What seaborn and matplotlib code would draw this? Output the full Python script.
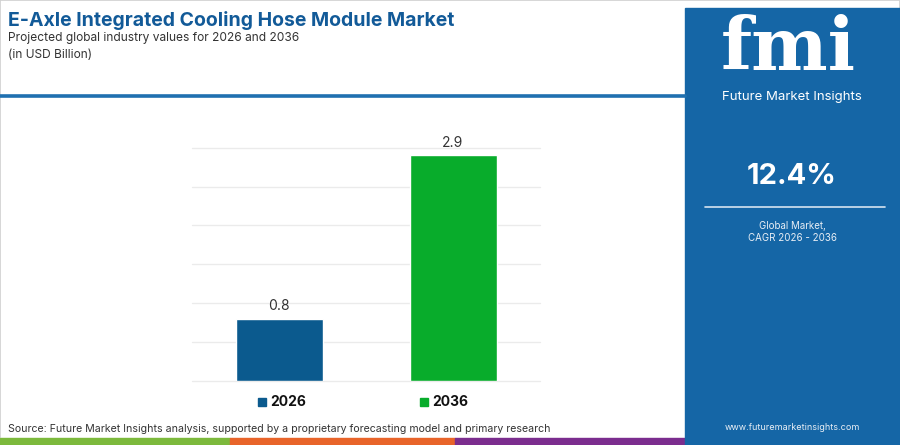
import matplotlib
matplotlib.use("Agg")
import matplotlib.pyplot as plt
import matplotlib.patches as mpatches
import matplotlib.lines as mlines
import seaborn as sns
import pandas as pd

# data
years = ["2026", "2036"]
values = [0.8, 2.9]
bar_colors = ["#0b5a8e", "#08ac2b"]
cagr_text = "12.4%"

title = "E-Axle Integrated Cooling Hose Module Market"
subtitle = "Projected global industry values for 2026 and 2036"
units = "(in USD Billion)"
source = "Source: Future Market Insights analysis, supported by a proprietary forecasting model and primary research"

df = pd.DataFrame({"year": years, "value": values})

sns.set_theme(style="white")
plt.rcParams["font.family"] = ["Inter", "DejaVu Sans"]

W, H = 900, 445
fig = plt.figure(figsize=(9, 4.45), dpi=100)
fig.patch.set_facecolor("white")

def fx(x):
    return x / W

def fy(y):
    return 1 - y / H

# outer border
fig.add_artist(mpatches.Rectangle((0, 0), 1, 1, transform=fig.transFigure,
                                  fill=False, edgecolor="#d0d0d0", linewidth=1.2))

# header
fig.text(fx(8), fy(20), title, fontsize=14, fontweight="bold", color="#125a98",
         va="center", ha="left")
fig.text(fx(8), fy(38), subtitle, fontsize=8.6, color="#333333", va="center", ha="left")
fig.text(fx(8), fy(55), units, fontsize=8.6, color="#333333", va="center", ha="left")
fig.add_artist(mlines.Line2D([0, fx(685)], [fy(95.5), fy(95.5)], transform=fig.transFigure,
                             color="#1f70b0", linewidth=2.6))

# chart
ax = fig.add_axes([fx(192), fy(380.7), fx(540 - 192), fy(147.7) - fy(380.7)])
sns.barplot(data=df, x="year", y="value", hue="year", palette=bar_colors,
            width=0.5, legend=False, ax=ax, saturation=1)
ax.set_ylim(0, 3.0)
ax.set_xlim(-0.5, 1.5)
ax.set_yticks([0, 0.5, 1.0, 1.5, 2.0, 2.5, 3.0])
ax.yaxis.grid(True, color="#ebebeb", linewidth=1, clip_on=False)
ax.set_axisbelow(True)
ax.set_xlabel("")
ax.set_ylabel("")
ax.set_xticklabels([])
ax.set_yticklabels([])
ax.tick_params(length=0)
for s in ax.spines.values():
    s.set_visible(False)
for i, v in enumerate(values):
    ax.annotate(f"{v}", (i, v), xytext=(0, 4), textcoords="offset points",
                ha="center", va="bottom", fontsize=10, color="#333333")

# legend
for xs, yr, col in zip([258, 420], years, bar_colors):
    fig.add_artist(mpatches.Rectangle((fx(xs), fy(406)), fx(8), fy(398) - fy(406),
                                      transform=fig.transFigure, color=col))
    fig.text(fx(xs + 12), fy(401.5), yr, fontsize=10, fontweight="bold",
             color="#111111", va="center", ha="left")

# source
fig.text(fx(8), fy(429), source, fontsize=7.6, color="#333333", va="center", ha="left")

# bottom strip
for x0, x1, col in [(0, 230, "#7cb93c"), (230, 455, "#e8642a"), (455, 685, "#7b2d8e")]:
    fig.add_artist(mpatches.Rectangle((fx(x0), fy(445)), fx(x1 - x0), fy(438) - fy(445),
                                      transform=fig.transFigure, color=col))

# right panel
fig.add_artist(mpatches.Rectangle((fx(685), 0), fx(W - 685), fy(8),
                                  transform=fig.transFigure, color="#1566a6"))
fig.text(fx(788), fy(50), "fmi", fontsize=52, fontweight="bold", color="white",
         family="DejaVu Serif", ha="center", va="center")
fig.text(fx(792), fy(97), "Future Market Insights", fontsize=9.5, color="white",
         ha="center", va="center")
fig.text(fx(792), fy(176), cagr_text, fontsize=21, fontweight="bold", color="white",
         ha="center", va="center")
fig.add_artist(mlines.Line2D([fx(705), fx(885)], [fy(207.5), fy(207.5)],
                             transform=fig.transFigure, color="#d6e4f0", linewidth=1.2))
fig.text(fx(792), fy(226), "Global Market,", fontsize=7, color="#e8eef5",
         ha="center", va="center")
fig.text(fx(792), fy(238), "CAGR 2026 - 2036", fontsize=7, color="#e8eef5",
         ha="center", va="center")
fig.text(fx(792), fy(428), "www.futuremarketinsights.com", fontsize=6.5, color="#e8eef5",
         ha="center", va="center")

fig.savefig("out.png", dpi=100)
